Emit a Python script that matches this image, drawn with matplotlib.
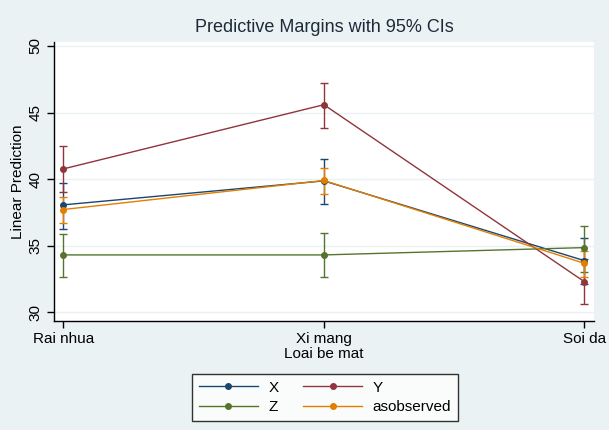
import matplotlib
matplotlib.use("Agg")
import matplotlib.pyplot as plt
from matplotlib.lines import Line2D
import numpy as np

categories = ["Rai nhua", "Xi mang", "Soi da"]
series = ["X", "Y", "Z", "asobserved"]
colors = ["#1a476f", "#90353b", "#55752f", "#e37e00"]

x_mean = [38.07, 39.87, 33.88]
x_lo = [36.29, 38.12, 32.13]
x_hi = [39.72, 41.50, 35.60]

y_mean = [40.77, 45.59, 32.30]
y_lo = [39.07, 43.83, 30.60]
y_hi = [42.50, 47.22, 34.00]

z_mean = [34.31, 34.31, 34.86]
z_lo = [32.65, 32.63, 33.05]
z_hi = [35.91, 35.94, 36.49]

a_mean = [37.72, 39.90, 33.68]
a_lo = [36.69, 38.87, 32.63]
a_hi = [38.65, 40.83, 34.59]

yticks = [30, 35, 40, 45, 50]

means = [x_mean, y_mean, z_mean, a_mean]
los = [x_lo, y_lo, z_lo, a_lo]
his = [x_hi, y_hi, z_hi, a_hi]

plt.rcParams['font.family'] = ['Liberation Sans', 'DejaVu Sans']
bg = "#eaf2f3"
fig = plt.figure(figsize=(6.09, 4.30), dpi=100, facecolor=bg)
ax = fig.add_axes([54/609, 1-320.7/430, 540/609, (320.7-42)/430])
ax.set_facecolor("white")

xs = np.arange(1, len(categories) + 1)
for name, m, lo, hi, c in zip(series, means, los, his, colors):
    m = np.array(m); lo = np.array(lo); hi = np.array(hi)
    ax.errorbar(xs, m, yerr=[m - lo, hi - m], color=c, lw=1.0, elinewidth=1.0,
                capsize=3, capthick=1.0, marker="o", ms=4, label=name)

ax.set_xlim(0.964, 3.037)
ax.set_ylim(29.37, 50.3)
ax.set_yticks(yticks)
ax.set_yticklabels([str(t) for t in yticks], rotation=90, va="center", fontsize=11)
ax.set_xticks(xs)
ax.set_xticklabels(categories, fontsize=11)
ax.yaxis.grid(True, color=bg, lw=1.0)
ax.set_axisbelow(True)
for s in ["top", "right"]:
    ax.spines[s].set_visible(False)
ax.spines["left"].set_linewidth(1.0)
ax.spines["bottom"].set_linewidth(1.0)
ax.tick_params(axis="both", direction="out", length=5, width=1.0, colors="black")
ax.tick_params(axis="x", pad=3)
ax.set_xlabel("Loai be mat", fontsize=11, labelpad=1)
ax.set_ylabel("Linear Prediction", fontsize=11, labelpad=2)
ax.set_title("Predictive Margins with 95% CIs", fontsize=13, color="#1e2a3a", pad=7)

hs = [Line2D([0], [0], color=c, lw=1.0, marker="o", ms=4) for c in colors]
order = [0, 2, 1, 3]
leg = fig.legend([hs[i] for i in order], [series[i] for i in order], ncol=2,
                 loc="center", bbox_to_anchor=(324.7/609, 1-397.3/430),
                 fontsize=11, frameon=True, fancybox=False, edgecolor="black",
                 facecolor="white", handlelength=3.9, handletextpad=0.65,
                 columnspacing=1.6, borderpad=0.45, labelspacing=0.35)
leg.get_frame().set_linewidth(1.0)

fig.savefig("out.png", dpi=100, facecolor=bg)
